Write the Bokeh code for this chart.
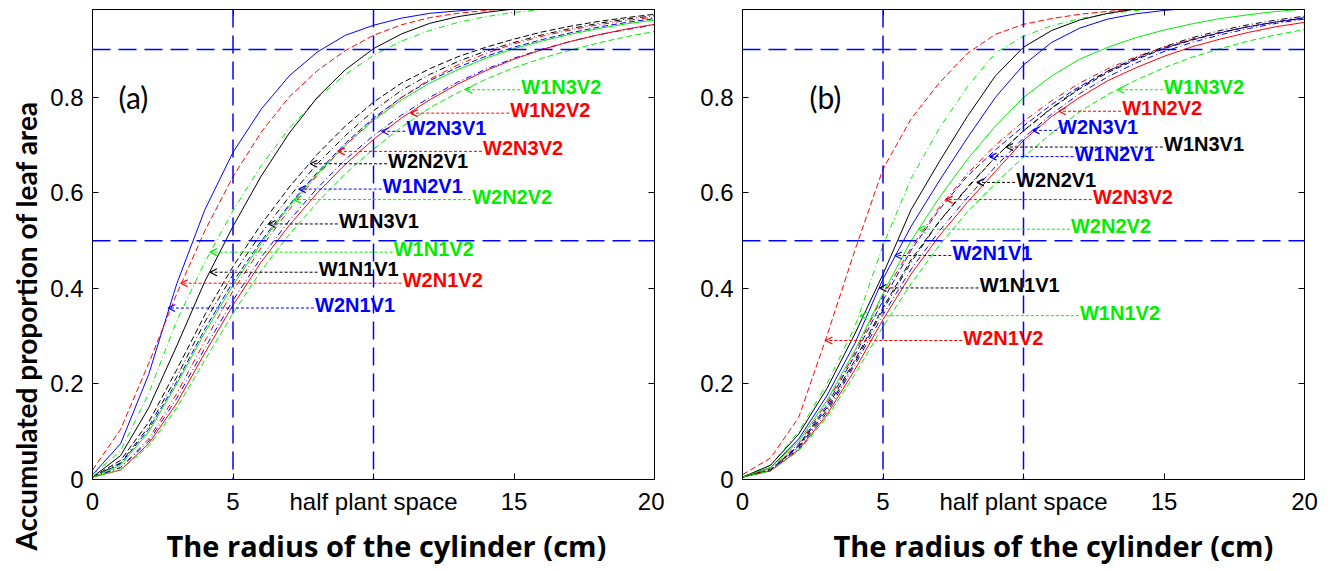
import math
from bokeh.plotting import figure
from bokeh.models import (Range1d, FixedTicker, LinearAxis, Span, Label, Arrow,
                          OpenHead, ColumnDataSource, Title)
from bokeh.layouts import row
from bokeh.embed import file_html
from bokeh.resources import INLINE
from bokeh.core.properties import value

# ---------------- data ----------------
radius = [0, 1, 2, 3, 4, 5, 6, 7, 8, 9, 10, 11, 12, 13, 14, 15, 16, 17, 18, 19, 20]

# panel (a)
a_W2N1V1 = [0.01, 0.075, 0.22, 0.41, 0.565, 0.685, 0.775, 0.845, 0.895, 0.93, 0.951, 0.966, 0.976, 0.981, 0.986, 0.99, 0.993, 0.995, 0.997, 0.998, 0.999]
a_W2N1V2 = [0.02, 0.105, 0.243, 0.389, 0.521, 0.634, 0.727, 0.801, 0.856, 0.898, 0.930, 0.952, 0.967, 0.976, 0.982, 0.987, 0.991, 0.994, 0.996, 0.997, 0.998]
a_W1N1V2 = [0.01, 0.06, 0.18, 0.333, 0.455, 0.563, 0.657, 0.735, 0.798, 0.848, 0.888, 0.918, 0.940, 0.957, 0.969, 0.978, 0.984, 0.989, 0.992, 0.995, 0.996]
a_W1N1V1 = [0.005, 0.05, 0.15, 0.28, 0.415, 0.53, 0.635, 0.725, 0.8, 0.858, 0.902, 0.933, 0.955, 0.969, 0.978, 0.985, 0.99, 0.993, 0.995, 0.997, 0.998]
a_W2N2V1 = [0.005, 0.04, 0.12, 0.23, 0.345, 0.446, 0.534, 0.612, 0.681, 0.74, 0.79, 0.83, 0.86, 0.885, 0.905, 0.922, 0.937, 0.949, 0.959, 0.967, 0.974]
a_W1N3V1 = [0.005, 0.035, 0.11, 0.215, 0.33, 0.429, 0.515, 0.592, 0.661, 0.72, 0.772, 0.815, 0.848, 0.875, 0.897, 0.915, 0.931, 0.944, 0.955, 0.964, 0.971]
a_W1N2V1 = [0.005, 0.033, 0.105, 0.205, 0.315, 0.414, 0.499, 0.575, 0.643, 0.704, 0.757, 0.80, 0.835, 0.863, 0.886, 0.905, 0.921, 0.935, 0.947, 0.957, 0.965]
a_W2N2V2 = [0.005, 0.03, 0.10, 0.20, 0.308, 0.407, 0.494, 0.572, 0.640, 0.70, 0.752, 0.795, 0.83, 0.858, 0.882, 0.902, 0.918, 0.932, 0.944, 0.954, 0.962]
a_W2N3V2 = [0.005, 0.025, 0.085, 0.18, 0.29, 0.395, 0.485, 0.565, 0.637, 0.70, 0.754, 0.80, 0.838, 0.868, 0.892, 0.912, 0.928, 0.941, 0.952, 0.961, 0.968]
a_W2N3V1 = [0.005, 0.025, 0.08, 0.17, 0.275, 0.375, 0.465, 0.542, 0.61, 0.67, 0.72, 0.763, 0.80, 0.832, 0.859, 0.882, 0.901, 0.917, 0.931, 0.942, 0.952]
a_W1N2V2 = [0.005, 0.02, 0.075, 0.16, 0.265, 0.365, 0.455, 0.532, 0.60, 0.66, 0.712, 0.757, 0.795, 0.828, 0.856, 0.88, 0.90, 0.917, 0.931, 0.943, 0.953]
a_W1N3V2 = [0.005, 0.02, 0.07, 0.15, 0.25, 0.348, 0.437, 0.513, 0.58, 0.64, 0.692, 0.738, 0.778, 0.81, 0.838, 0.862, 0.882, 0.899, 0.914, 0.927, 0.938]

# panel (b)
b_W2N1V2 = [0.01, 0.045, 0.13, 0.30, 0.48, 0.65, 0.755, 0.83, 0.892, 0.932, 0.953, 0.965, 0.974, 0.98, 0.985, 0.989, 0.992, 0.994, 0.996, 0.997, 0.998]
b_W1N1V2 = [0.005, 0.03, 0.10, 0.20, 0.32, 0.49, 0.63, 0.735, 0.822, 0.893, 0.928, 0.95, 0.965, 0.975, 0.982, 0.987, 0.991, 0.994, 0.996, 0.997, 0.998]
b_W1N1V1 = [0.005, 0.03, 0.095, 0.19, 0.305, 0.43, 0.565, 0.665, 0.76, 0.845, 0.905, 0.94, 0.962, 0.976, 0.985, 0.99, 0.993, 0.995, 0.997, 0.998, 0.999]
b_W2N1V1 = [0.005, 0.025, 0.085, 0.175, 0.285, 0.42, 0.53, 0.625, 0.715, 0.80, 0.868, 0.915, 0.945, 0.964, 0.975, 0.982, 0.987, 0.991, 0.994, 0.996, 0.997]
b_W2N2V2 = [0.005, 0.025, 0.08, 0.165, 0.27, 0.39, 0.50, 0.59, 0.67, 0.74, 0.80, 0.845, 0.88, 0.905, 0.925, 0.941, 0.954, 0.965, 0.973, 0.98, 0.985]
b_W2N3V2 = [0.005, 0.022, 0.075, 0.16, 0.265, 0.385, 0.485, 0.57, 0.64, 0.70, 0.75, 0.793, 0.83, 0.86, 0.885, 0.905, 0.922, 0.936, 0.948, 0.958, 0.966]
b_W2N2V1 = [0.005, 0.02, 0.07, 0.15, 0.25, 0.36, 0.46, 0.54, 0.61, 0.675, 0.73, 0.777, 0.818, 0.852, 0.879, 0.902, 0.92, 0.935, 0.948, 0.958, 0.967]
b_W1N2V1 = [0.005, 0.02, 0.072, 0.155, 0.26, 0.375, 0.48, 0.565, 0.635, 0.69, 0.74, 0.785, 0.823, 0.855, 0.881, 0.903, 0.921, 0.936, 0.948, 0.958, 0.966]
b_W1N3V1 = [0.005, 0.02, 0.068, 0.145, 0.245, 0.355, 0.455, 0.54, 0.612, 0.675, 0.73, 0.778, 0.82, 0.855, 0.883, 0.906, 0.925, 0.94, 0.952, 0.962, 0.97]
b_W2N3V1 = [0.005, 0.018, 0.065, 0.14, 0.24, 0.345, 0.44, 0.52, 0.59, 0.655, 0.715, 0.765, 0.808, 0.843, 0.872, 0.896, 0.915, 0.931, 0.944, 0.955, 0.964]
b_W1N2V2 = [0.005, 0.018, 0.062, 0.135, 0.23, 0.335, 0.43, 0.51, 0.58, 0.645, 0.71, 0.76, 0.80, 0.835, 0.862, 0.886, 0.906, 0.922, 0.936, 0.948, 0.957]
b_W1N3V2 = [0.005, 0.018, 0.06, 0.13, 0.22, 0.32, 0.41, 0.49, 0.56, 0.62, 0.675, 0.725, 0.77, 0.806, 0.836, 0.862, 0.884, 0.902, 0.918, 0.931, 0.942]

# annotation labels (name, arrow tip x, arrow tip y, label start x)
a_lab_names = ["W1N3V2", "W1N2V2", "W2N3V1", "W2N3V2", "W2N2V1", "W1N2V1",
               "W2N2V2", "W1N3V1", "W1N1V2", "W1N1V1", "W2N1V2", "W2N1V1"]
a_lab_tip_x = [13.27, 11.32, 10.29, 8.73, 7.75, 7.34, 7.17, 6.26, 4.18, 4.18, 3.14, 2.69]
a_lab_tip_y = [0.816, 0.767, 0.729, 0.687, 0.661, 0.608, 0.586, 0.535, 0.476, 0.434, 0.411, 0.359]
a_lab_text_x = [15.22, 14.83, 11.13, 13.86, 10.48, 10.29, 13.47, 8.73, 10.68, 8.01, 11.0, 7.88]

b_lab_names = ["W1N3V2", "W1N2V2", "W2N3V1", "W1N3V1", "W1N2V1", "W2N2V1",
               "W2N3V2", "W2N2V2", "W2N1V1", "W1N1V1", "W1N1V2", "W2N1V2"]
b_lab_tip_x = [13.34, 11.26, 10.32, 9.38, 8.79, 8.34, 7.23, 6.26, 5.42, 4.87, 4.18, 2.95]
b_lab_tip_y = [0.816, 0.771, 0.731, 0.696, 0.676, 0.622, 0.586, 0.524, 0.469, 0.401, 0.343, 0.291]
b_lab_text_x = [14.96, 13.47, 11.19, 14.96, 11.78, 9.70, 12.43, 11.65, 7.43, 8.40, 11.97, 7.82]

x_ticks = [0, 5, 10, 15, 20]
x_tick_labels = ["0", "5", "half plant space", "15", "20"]
y_ticks = [0, 0.2, 0.4, 0.6, 0.8]
y_tick_labels = ["0", "0.2", "0.4", "0.6", "0.8"]
ref_x = [5, 10]
ref_y = [0.5, 0.9]

# ---------------- style ----------------
BLUE, RED, BLACK, GREEN = "#0000ff", "#ff0000", "#000000", "#00ee00"
COLOR = {"W1N1V1": BLACK, "W1N1V2": GREEN, "W1N2V1": BLUE, "W1N2V2": RED,
         "W1N3V1": BLACK, "W1N3V2": GREEN, "W2N1V1": BLUE, "W2N1V2": RED,
         "W2N2V1": BLACK, "W2N2V2": GREEN, "W2N3V1": BLUE, "W2N3V2": RED}
DASH = {"W2N1V1": "solid", "W1N2V1": "6 3", "W2N3V1": "6 3 1 3",
        "W2N1V2": "6 3", "W1N2V2": "solid", "W2N3V2": "6 3 1 3",
        "W1N1V1": "solid", "W2N2V1": "6 3", "W1N3V1": "6 3 1 3",
        "W1N1V2": "6 3 1 3", "W2N2V2": "solid", "W1N3V2": "6 3"}

a_curves = {"W2N1V1": a_W2N1V1, "W2N1V2": a_W2N1V2, "W1N1V2": a_W1N1V2, "W1N1V1": a_W1N1V1,
            "W2N2V1": a_W2N2V1, "W1N3V1": a_W1N3V1, "W1N2V1": a_W1N2V1, "W2N2V2": a_W2N2V2,
            "W2N3V2": a_W2N3V2, "W2N3V1": a_W2N3V1, "W1N2V2": a_W1N2V2, "W1N3V2": a_W1N3V2}
b_curves = {"W2N1V2": b_W2N1V2, "W1N1V2": b_W1N1V2, "W1N1V1": b_W1N1V1, "W2N1V1": b_W2N1V1,
            "W2N2V2": b_W2N2V2, "W2N3V2": b_W2N3V2, "W2N2V1": b_W2N2V1, "W1N2V1": b_W1N2V1,
            "W1N3V1": b_W1N3V1, "W2N3V1": b_W2N3V1, "W1N2V2": b_W1N2V2, "W1N3V2": b_W1N3V2}

TICK_FONT = "Liberation Sans"
LAB_FONT = "Liberation Sans"
TITLE_FONT = "Lato"
XTITLE_FONT = "Open Sans"


def make_panel(curves, names, tip_x, tip_y, text_x, tag, tag_x, title_offset,
               border_left, border_right, with_ytitle):
    p = figure(frame_width=562, frame_height=470,
               min_border_left=border_left, min_border_right=border_right,
               min_border_top=9, min_border_bottom=88,
               x_range=Range1d(0, 20), y_range=Range1d(0, 0.984),
               output_backend="svg", toolbar_location=None, tools="")
    p.grid.visible = False
    p.outline_line_color = "black"
    p.outline_line_width = 1
    p.background_fill_color = "white"
    p.border_fill_color = "white"

    for ax, ticks, labs in ((p.xaxis[0], x_ticks, x_tick_labels),
                            (p.yaxis[0], y_ticks, y_tick_labels)):
        ax.ticker = FixedTicker(ticks=ticks)
        ax.major_label_overrides = {t: l for t, l in zip(ticks, labs)}
        ax.major_tick_in = 6
        ax.major_tick_out = 0
        ax.minor_tick_line_color = None
        ax.axis_line_color = "black"
        ax.major_tick_line_color = "black"
        ax.major_label_text_font = TICK_FONT
        ax.major_label_text_font_size = "24px"
        ax.major_label_text_color = "black"
    p.xaxis[0].major_label_standoff = 8
    p.yaxis[0].major_label_standoff = 9

    for loc, ticks in (("above", x_ticks), ("right", y_ticks)):
        ax = LinearAxis(ticker=FixedTicker(ticks=ticks), major_tick_in=6, major_tick_out=0,
                        minor_tick_line_color=None, major_label_text_alpha=0,
                        major_label_text_font_size="1px",
                        major_label_standoff=0, axis_line_color="black")
        p.add_layout(ax, loc)

    for xv in ref_x:
        p.add_layout(Span(location=xv, dimension="height", line_color=BLUE,
                          line_dash="18 8", line_width=1.5))
    for yv in ref_y:
        p.add_layout(Span(location=yv, dimension="width", line_color=BLUE,
                          line_dash="18 8", line_width=1.5))

    for name, ys in curves.items():
        p.line(radius, ys, line_color=COLOR[name], line_width=1, line_dash=DASH[name])

    for n, tx, ty, lx in zip(names, tip_x, tip_y, text_x):
        c = COLOR[n]
        p.add_layout(Arrow(x_start=lx, y_start=ty, x_end=tx, y_end=ty,
                           line_color=c, line_width=1, line_dash="3 2",
                           end=OpenHead(size=7, line_color=c, line_width=1.2)))
    src = ColumnDataSource(dict(x=[v + 0.04 for v in text_x],
                                y=[v + 0.006 for v in tip_y],
                                t=names, c=[COLOR[n] for n in names]))
    p.text(x="x", y="y", text="t", source=src, text_color="c",
           text_font=value(LAB_FONT), text_font_style="bold",
           text_font_size="20px", text_align="left", text_baseline="middle")

    p.add_layout(Label(x=tag_x, y=0.801, text=tag, text_font=TITLE_FONT,
                       text_font_size="30px", text_align="left",
                       text_baseline="middle", text_color="black"))
    p.add_layout(Title(text="The radius of the cylinder (cm)", align="left",
                       offset=title_offset, standoff=12,
                       text_font=XTITLE_FONT, text_font_style="bold",
                       text_font_size="29px", text_color="black"), "below")
    if with_ytitle:
        p.add_layout(Title(text="Accumulated proportion of leaf area", align="left",
                           offset=-71, standoff=9,
                           text_font=TITLE_FONT, text_font_style="bold",
                           text_font_size="28px", text_color="black"), "left")
    return p


pa = make_panel(a_curves, a_lab_names, a_lab_tip_x, a_lab_tip_y, a_lab_text_x,
                "(a)", 0.925, 74, 92, 10, True)
pb = make_panel(b_curves, b_lab_names, b_lab_tip_x, b_lab_tip_y, b_lab_text_x,
                "(b)", 2.38, 91, 78, 20, False)

layout = row(pa, pb, spacing=0)
open("out.html", "w").write(file_html(layout, INLINE))
